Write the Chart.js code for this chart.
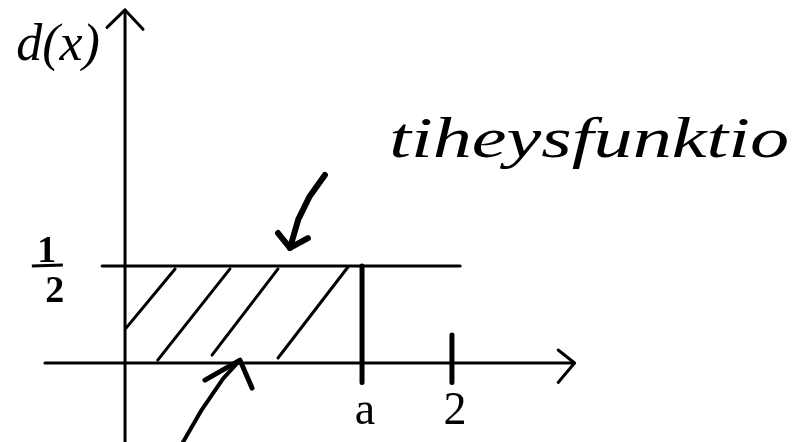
<!DOCTYPE html>
<html>
<head>
<meta charset="utf-8">
<script src="https://cdn.jsdelivr.net/npm/chart.js@4.4.1/dist/chart.umd.min.js"></script>
<style>
  html, body { margin: 0; padding: 0; background: #fff; }
  #wrap { width: 796px; height: 442px; }
</style>
</head>
<body>
<div id="wrap"><canvas id="sketch"></canvas></div>
<script>
// density value and the end point a of the support
var densityValue = 0.5;
var aValue = 1.45;

// axes (x, y pairs in data units)
var yAxisLine = [[0, -0.41], [0, 1.82]];
var yAxisHead = [[-0.11, 1.73], [0, 1.82], [0.11, 1.72]];
var xAxisLine = [[-0.49, 0], [2.75, 0]];
var xAxisHead = [[2.65, 0.067], [2.75, 0], [2.65, -0.10]];

// the density: top line, right edge at a, tick at 2
var topLine = [[-0.14, densityValue], [2.05, densityValue]];
var edgeLine = [[aValue, densityValue], [aValue, -0.1]];
var tickTwo = [[2, 0.144], [2, -0.1]];

// hatching inside the rectangle
var hatch1 = [[0.306, 0.485], [0.006, 0.18]];
var hatch2 = [[0.642, 0.485], [0.20, 0.015]];
var hatch3 = [[0.936, 0.485], [0.532, 0.041]];
var hatch4 = [[1.364, 0.495], [0.936, 0.026]];

// pointer arrows
var arrowTop = [[1.223, 0.969], [1.13, 0.86], [1.06, 0.74], [1.009, 0.593]];
var arrowTopHead = [[0.936, 0.670], [1.009, 0.593], [1.119, 0.644]];
var arrowLow = [[0.355, -0.407], [0.47, -0.24], [0.60, -0.08], [0.703, 0.015]];
var arrowLowHead = [[0.489, -0.088], [0.703, 0.015], [0.777, -0.129]];

// labels
var xTickLabels = ['a', '2'];
var xTickValues = [aValue, 2];
var yLabel = 'd(x)';
var curveLabel = 'tiheysfunktio';

function pts(list) {
    return list.map(function(p) { return {x: p[0], y: p[1]}; });
}

function seg(list, width) {
    return {
        data: pts(list),
        borderColor: '#000',
        borderWidth: width,
        pointRadius: 0,
        fill: false,
        tension: 0,
        borderCapStyle: 'round',
        borderJoinStyle: 'round'
    };
}

var labelPlugin = {
    id: 'labels',
    afterDraw: function(chart) {
        var ctx = chart.ctx;
        var xs = chart.scales.x;
        var ys = chart.scales.y;
        ctx.save();
        ctx.fillStyle = '#000';
        ctx.textAlign = 'center';
        ctx.textBaseline = 'middle';

        // y label
        ctx.font = 'italic 52px "Liberation Serif"';
        ctx.fillText(yLabel, xs.getPixelForValue(-0.41), ys.getPixelForValue(1.63));

        // fraction 1/2
        var fx = xs.getPixelForValue(-0.46);
        var fy = ys.getPixelForValue(densityValue);
        ctx.font = 'bold 38px "Liberation Serif"';
        ctx.fillText('1', fx - 3, fy - 14);
        ctx.fillText('2', fx + 5, fy + 26);
        ctx.lineWidth = 3;
        ctx.beginPath();
        ctx.moveTo(fx - 18, fy);
        ctx.lineTo(fx + 13, fy - 1);
        ctx.stroke();

        // x tick labels
        ctx.font = '46px "Liberation Serif"';
        for (var i = 0; i < xTickLabels.length; i++) {
            ctx.fillText(xTickLabels[i], xs.getPixelForValue(xTickValues[i]) + 3, ys.getPixelForValue(-0.25));
        }

        // curve name
        ctx.font = 'italic 56px "Liberation Serif"';
        var w = ctx.measureText(curveLabel).width;
        var cx = xs.getPixelForValue(2.84);
        var cy = ys.getPixelForValue(1.14);
        ctx.translate(cx, cy);
        ctx.scale(400 / w, 1);
        ctx.fillText(curveLabel, 0, 0);
        ctx.restore();
    }
};

var ctx = document.getElementById('sketch');
var sketch = new Chart(ctx, {
    type: 'scatter',
    data: {
        datasets: [
            seg(yAxisLine, 3), seg(yAxisHead, 3),
            seg(xAxisLine, 3), seg(xAxisHead, 3),
            seg(topLine, 3), seg(edgeLine, 5), seg(tickTwo, 5),
            seg(hatch1, 3), seg(hatch2, 3), seg(hatch3, 3), seg(hatch4, 3),
            seg(arrowTop, 6), seg(arrowTopHead, 6),
            seg(arrowLow, 4), seg(arrowLowHead, 5)
        ]
    },
    options: {
        responsive: true,
        maintainAspectRatio: false,
        animation: false,
        showLine: true,
        layout: { padding: 0 },
        plugins: {
            legend: { display: false },
            tooltip: { enabled: false }
        },
        scales: {
            x: { type: 'linear', display: false, min: -0.765, max: 4.105 },
            y: { type: 'linear', display: false, min: -0.407, max: 1.871 }
        }
    },
    plugins: [labelPlugin]
});
</script>
</body>
</html>
